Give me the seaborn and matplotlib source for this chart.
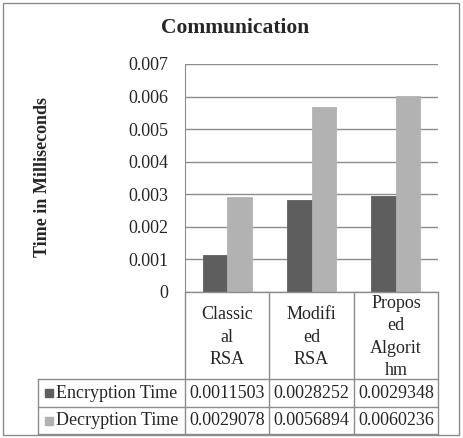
import pandas as pd
import numpy as np
import matplotlib.pyplot as plt
import seaborn as sns
from matplotlib.lines import Line2D
from matplotlib.patches import Rectangle

# data
categories = ["Classical RSA", "Modified RSA", "Proposed Algorithm"]
cat_labels = ["Classic\nal\nRSA", "Modifi\ned\nRSA", "Propos\ned\nAlgorit\nhm"]
series = ["Encryption Time", "Decryption Time"]
encryption = [0.0011503, 0.0028252, 0.0029348]
decryption = [0.0029078, 0.0056894, 0.0060236]
colors = ["#5e5e5e", "#b2b2b2"]

df = pd.DataFrame({
    "algo": categories * 2,
    "series": [series[0]] * 3 + [series[1]] * 3,
    "time": encryption + decryption,
})

sns.set_style("white")
plt.rcParams["font.family"] = ["Liberation Serif", "DejaVu Serif"]

W, H = 463, 438
fig = plt.figure(figsize=(W / 100, H / 100), dpi=100)

def fx(px):
    return px / W

def fy(py):
    return 1 - py / H

FS = 13
BAR_W = 0.58

ax = fig.add_axes([fx(185), fy(292), fx(438) - fx(185), fy(64) - fy(292)])
sns.barplot(data=df, x="algo", y="time", hue="series", palette=colors,
            width=BAR_W, gap=0, saturation=1, legend=False,
            edgecolor="none", ax=ax)
# make the two bars of a group touch: left bar slides under the right one
for p in ax.patches:
    cx = p.get_x() + p.get_width() / 2
    i = round(cx)
    p.set_edgecolor(p.get_facecolor())
    p.set_linewidth(0.6)
    if cx < i:
        p.set_x(i - BAR_W / 2)
        p.set_width(BAR_W / 2 + 0.03)
        p.set_zorder(2)
    else:
        p.set_x(i)
        p.set_width(BAR_W / 2)
        p.set_zorder(3)

ax.set_ylim(0, 0.007)
ax.set_xlim(-0.5, 2.5)
ax.set_yticks(np.arange(0, 0.0071, 0.001))
ax.set_yticklabels(["0"] + ["%.3f" % v for v in np.arange(0.001, 0.0071, 0.001)])
ax.tick_params(axis="y", labelsize=FS, length=0, pad=12, left=False)
ax.set_xticks([])
ax.set_xlabel("")
ax.set_ylabel("")
ax.yaxis.grid(True, color="#8c8c8c", linewidth=1)
ax.set_axisbelow(True)
for s in ["top", "right", "bottom"]:
    ax.spines[s].set_visible(False)
ax.spines["left"].set_color("#8c8c8c")

fig.text(fx(235), fy(28), "Communication", ha="center", va="center",
         fontsize=15.5, fontweight="bold")
fig.text(fx(43), fy(177), "Time in Milliseconds", ha="center", va="center",
         rotation=90, fontsize=13, fontweight="bold")

# data table under the axes
lc = "#8c8c8c"
cols = [185, 269, 354, 438]
rows = [379, 407, 434]

def hline(y, x0, x1):
    fig.add_artist(Line2D([fx(x0), fx(x1)], [fy(y), fy(y)], color=lc, lw=1))

def vline(x, y0, y1):
    fig.add_artist(Line2D([fx(x), fx(x)], [fy(y0), fy(y1)], color=lc, lw=1))

hline(292, 185, 438)
for x in cols:
    vline(x, 292, rows[-1])
vline(38, rows[0], rows[-1])
for y in rows:
    hline(y, 38, 438)

for i, lab in enumerate(cat_labels):
    cx = (cols[i] + cols[i + 1]) / 2
    fig.text(fx(cx), fy(337), lab, ha="center", va="center",
             fontsize=FS, linespacing=1.4)

vals = [encryption, decryption]
for r in range(2):
    cy = (rows[r] + rows[r + 1]) / 2
    fig.add_artist(Rectangle((fx(45), fy(cy + 4)), fx(8), fy(cy - 4) - fy(cy + 4),
                             color=colors[r], transform=fig.transFigure))
    fig.text(fx(56), fy(cy), series[r], ha="left", va="center", fontsize=FS)
    for i in range(3):
        cx = (cols[i] + cols[i + 1]) / 2
        fig.text(fx(cx), fy(cy), "%.7f" % vals[r][i], ha="center", va="center",
                 fontsize=FS)

# outer frame
fig.add_artist(Rectangle((fx(3), fy(435)), fx(456), fy(3) - fy(435), fill=False,
                         edgecolor="#8c8c8c", lw=1, transform=fig.transFigure))

fig.savefig("out.png", dpi=100)
